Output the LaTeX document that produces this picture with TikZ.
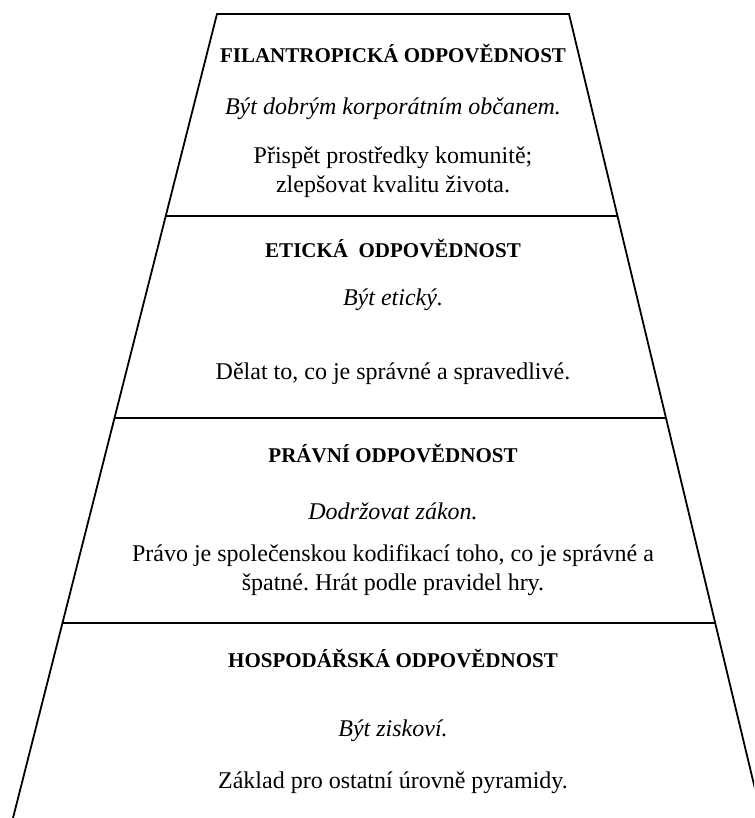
\documentclass[tikz,border=0pt]{standalone}
\usepackage{fontspec}
\setmainfont{Liberation Serif}
\usetikzlibrary{calc}
\frenchspacing

\tikzset{
  titre/.style={font=\fontsize{21}{25}\selectfont\bfseries, anchor=base, inner sep=0pt},
  devise/.style={font=\fontsize{24}{29}\selectfont\itshape, anchor=base, inner sep=0pt},
  texte/.style={font=\fontsize{24}{29}\selectfont, align=center, anchor=base, inner sep=0pt},
  trait/.style={line width=1.8pt, line join=miter}
}

\begin{document}
\begin{tikzpicture}[x=1pt,y=-1pt] % 1 px de l'image = 1 pt

% --------- PARAMÈTRES ----------
\def\ytop{14}    % arête du haut
\def\ybas{818}   % bas de l'image
\def\xc{393}     % axe vertical des textes
% -------------------------------

\useasboundingbox (0,0) rectangle (754,818);
\clip (0,0) rectangle (754,818);

% Coins de la pyramide
\coordinate (hg) at (217,\ytop);
\coordinate (hd) at (569,\ytop);
\coordinate (bg) at (13,\ybas);
\coordinate (bd) at (762,\ybas);

% Contour (ouvert en bas)
\draw[trait] (bg) -- (hg) -- (hd) -- (bd);

% Séparations entre les niveaux
\foreach \y in {216,418,623}{
  \pgfmathsetmacro\t{(\y-\ytop)/(\ybas-\ytop)}
  \draw[trait] ($(hg)!\t!(bg)$) -- ($(hd)!\t!(bd)$);
}

% Niveau 4 : filantropie (texte sur 2 lignes : base = dernière ligne)
\node[titre]  (filT) at (\xc,63)  {FILANTROPICKÁ ODPOVĚDNOST};
\node[devise] (filD) at (\xc,115) {Být dobrým korporátním občanem.};
\node[texte]  (filX) at (\xc,193) {Přispět prostředky komunitě;\\zlepšovat kvalitu života.};

% Niveau 3 : éthique
\node[titre]  (etiT) at (\xc,257) {ETICKÁ\ \ ODPOVĚDNOST};
\node[devise] (etiD) at (\xc,305) {Být etický.};
\node[texte]  (etiX) at (\xc,379) {Dělat to, co je správné a spravedlivé.};

% Niveau 2 : droit
\node[titre]  (praT) at (\xc,462) {PRÁVNÍ ODPOVĚDNOST};
\node[devise] (praD) at (\xc,519) {Dodržovat zákon.};
\node[texte]  (praX) at (\xc,590) {Právo je společenskou kodifikací toho, co je správné a\\špatné. Hrát podle pravidel hry.};

% Niveau 1 : économie
\node[titre]  (hosT) at (\xc,667) {HOSPODÁŘSKÁ ODPOVĚDNOST};
\node[devise] (hosD) at (\xc,736) {Být ziskoví.};
\node[texte]  (hosX) at (\xc,788) {Základ pro ostatní úrovně pyramidy.};

\end{tikzpicture}
\end{document}
